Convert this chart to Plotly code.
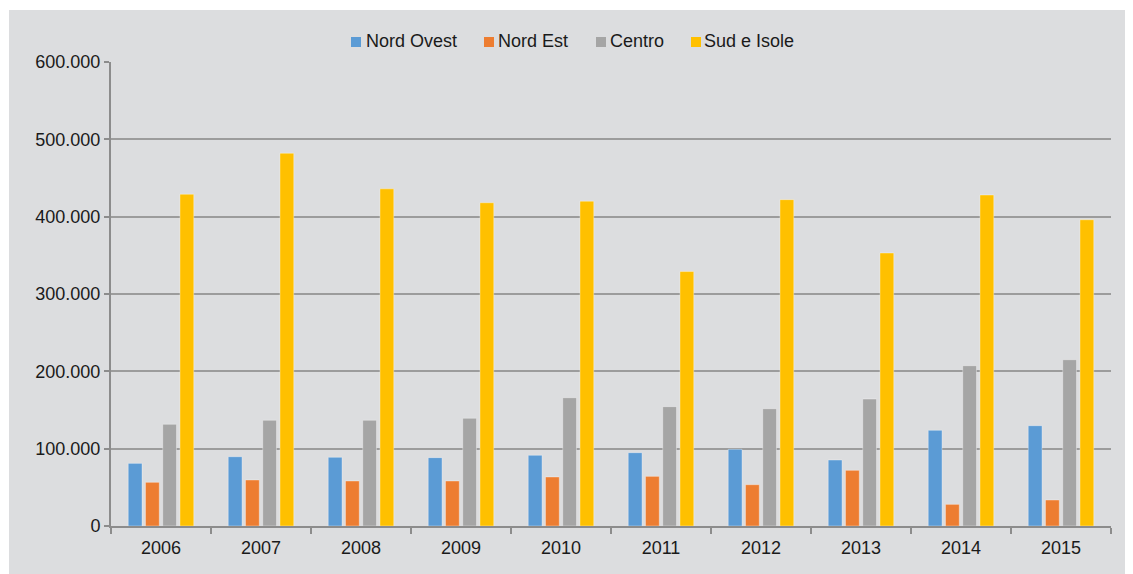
import plotly.graph_objects as go

years = ["2006", "2007", "2008", "2009", "2010", "2011", "2012", "2013", "2014", "2015"]
nord_ovest = [81000, 89600, 88800, 88400, 91400, 94800, 99200, 85300, 123700, 129700]
nord_est = [56500, 59500, 58200, 58200, 63400, 64200, 53400, 72000, 28000, 33600]
centro = [131500, 136700, 136700, 139300, 165900, 154300, 151700, 164200, 207300, 215000]
sud_isole = [429000, 482000, 436000, 418000, 420000, 329000, 422000, 353000, 428000, 396000]

names = ["Nord Ovest", "Nord Est", "Centro", "Sud e Isole"]
colors = ["#5B9BD5", "#ED7D31", "#A5A5A5", "#FFC000"]
values = [nord_ovest, nord_est, centro, sud_isole]

BG = "#DCDDDF"
GRID = "#9C9C9C"
AXIS = "#8C8C8C"
FONT = "Liberation Sans, Arial, sans-serif"
TXT = "#1a1a1a"

# figure geometry (the page adds an 8px body margin)
W, H = 1125, 566
ML, MR, MT, MB = 103, 22, 54, 48
PW, PH = W - ML - MR, H - MT - MB


def px(fx):
    return (fx - ML) / PW


def py(fy):
    return (H - MB - fy) / PH


fig = go.Figure()
for name, vals, col in zip(names, values, colors):
    fig.add_trace(go.Bar(
        x=years, y=vals, name=name, showlegend=False,
        marker=dict(color=col, line=dict(color="rgba(255,255,255,0.35)", width=1)),
    ))

# manual legend (positions in figure pixels)
sq_x = [343, 476, 588, 683]
tx_x = [356.5, 489, 600.5, 695]
shapes = [
    dict(type="rect", xref="paper", yref="paper", x0=-0.2, x1=px(1), y0=-0.2, y1=1.3,
         fillcolor="white", line=dict(width=0), layer="below"),
    dict(type="rect", xref="paper", yref="paper", x0=-0.2, x1=1.1, y0=py(2), y1=1.3,
         fillcolor="white", line=dict(width=0), layer="below"),
]
annotations = []
for name, col, sx, tx in zip(names, colors, sq_x, tx_x):
    shapes.append(dict(type="rect", xref="paper", yref="paper",
                       x0=px(sx), x1=px(sx + 10), y0=py(39), y1=py(29),
                       fillcolor=col, line=dict(width=0)))
    annotations.append(dict(xref="paper", yref="paper", x=px(tx), y=py(33),
                            xanchor="left", yanchor="middle", showarrow=False,
                            text=name, font=dict(family=FONT, size=18, color=TXT),
                            borderpad=0))

fig.update_layout(
    width=W, height=H,
    margin=dict(l=ML, r=MR, t=MT, b=MB),
    paper_bgcolor=BG, plot_bgcolor=BG,
    separators=",.",
    barmode="group", bargap=0.31, bargroupgap=0.2,
    font=dict(family=FONT, size=18, color=TXT),
    showlegend=False,
    xaxis=dict(
        type="category", showgrid=False, showline=True, linecolor=AXIS, linewidth=2,
        ticks="outside", tickson="boundaries", ticklen=6, tickcolor=AXIS, tickwidth=2,
        ticklabelstandoff=4,
        tickfont=dict(family=FONT, size=18, color=TXT),
    ),
    yaxis=dict(
        range=[0, 600000], dtick=100000, tickformat=",d",
        showgrid=True, gridcolor=GRID, gridwidth=1.5,
        showline=True, linecolor=AXIS, linewidth=2,
        ticks="outside", ticklen=5, tickcolor=AXIS, tickwidth=2,
        zeroline=False,
        tickfont=dict(family=FONT, size=18, color=TXT),
    ),
    shapes=shapes,
    annotations=annotations,
)

fig.write_html("out.html")
